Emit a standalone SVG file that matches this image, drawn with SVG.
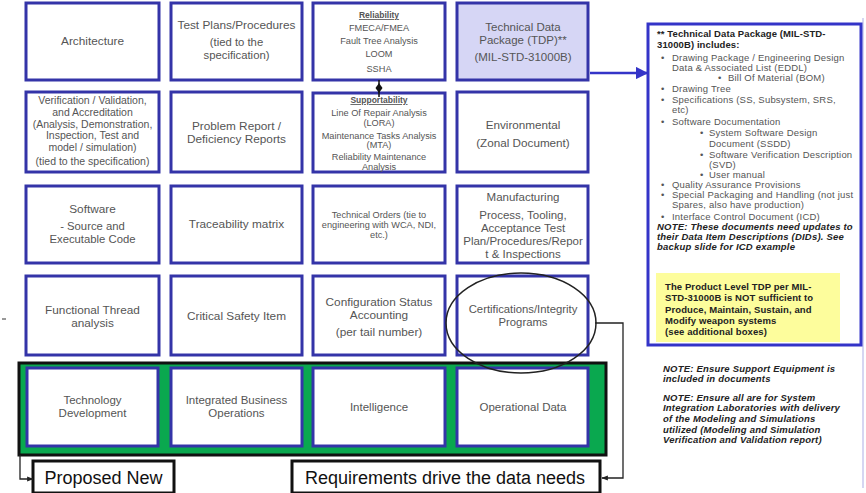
<svg xmlns="http://www.w3.org/2000/svg" width="866" height="493" viewBox="0 0 866 493">
<defs>
<style>
.box{fill:#fff;stroke:#3434a8;stroke-width:3}
.t{font-family:"Liberation Sans",Arial,sans-serif;fill:#555;text-anchor:middle}
.s11{font-size:11.8px}
.s10{font-size:11.5px}
.sv{font-size:10.5px}
.s8{font-size:9.2px}
.p{font-family:"Liberation Sans",Arial,sans-serif;font-size:9.5px;letter-spacing:0.2px;fill:#555}
.pb{font-family:"Liberation Sans",Arial,sans-serif;font-size:9.5px;letter-spacing:0.1px;fill:#222;font-weight:bold}
.pi{font-family:"Liberation Sans",Arial,sans-serif;font-size:9.5px;letter-spacing:0.2px;fill:#222;font-style:italic;font-weight:bold}
.big{font-family:"Liberation Sans",Arial,sans-serif;font-size:18px;fill:#111;text-anchor:middle}
.conn{fill:none;stroke:#222;stroke-width:1.3}
</style>
<marker id="ah" viewBox="0 0 10 10" refX="9" refY="5" markerWidth="5" markerHeight="5" orient="auto"><path d="M0,1 L10,5 L0,9 z" fill="#222"/></marker>
<marker id="ahb" viewBox="0 0 10 10" refX="9" refY="5" markerWidth="5" markerHeight="5" orient="auto"><path d="M0,0 L10,5 L0,10 z" fill="#3434c8"/></marker>
</defs>
<rect width="866" height="493" fill="#fff"/>
<line x1="863" y1="18" x2="863" y2="488" stroke="#c8c8ee" stroke-width="1.5"/>
<line x1="2" y1="319" x2="6" y2="319" stroke="#333" stroke-width="1"/>

<g id="green-band"><rect x="19" y="363" width="587" height="92" fill="#0aa84f" stroke="#111" stroke-width="3"/></g>

<g id="architecture"><rect class="box" x="26" y="3" width="133" height="77"/><text class="t s11" x="92.5" y="45">Architecture</text></g>
<g id="test-plans"><rect class="box" x="171" y="3" width="131" height="77"/><text class="t s11" x="236.5" y="29">Test Plans/Procedures</text><text class="t" font-size="11.3" x="236.5" y="46">(tied to the</text><text class="t" font-size="11.3" x="236.5" y="59">specification)</text></g>
<g id="reliability"><rect class="box" x="313" y="3" width="132" height="77"/>
<text class="t" font-size="8.5" x="379" y="18" font-weight="bold" fill="#333" text-decoration="underline">Reliability</text>
<text class="t s8" x="379" y="31">FMECA/FMEA</text><text class="t s8" x="379" y="44">Fault Tree Analysis</text><text class="t s8" x="379" y="57">LOOM</text><text class="t s8" x="379" y="72">SSHA</text></g>
<g id="tdp"><rect class="box" x="457" y="3" width="131" height="77" style="fill:#d6d6f5"/><text class="t" font-size="11.5" x="523" y="31">Technical Data</text><text class="t" font-size="11.5" x="523" y="44">Package (TDP)**</text><text class="t" font-size="11.5" x="523" y="61">(MIL-STD-31000B)</text></g>

<g id="vva"><rect class="box" x="26" y="92" width="133" height="80"/>
<text class="t sv" x="92.5" y="104">Verification / Validation,</text><text class="t sv" x="92.5" y="116">and Accreditation</text><text class="t sv" x="92.5" y="128">(Analysis, Demonstration,</text><text class="t sv" x="92.5" y="139">Inspection, Test and</text><text class="t sv" x="92.5" y="151">model / simulation)</text><text class="t sv" x="92.5" y="165">(tied to the specification)</text></g>
<g id="problem-report"><rect class="box" x="171" y="92" width="131" height="80"/><text class="t s11" x="236.5" y="130">Problem Report /</text><text class="t s11" x="236.5" y="143">Deficiency Reports</text></g>
<g id="supportability"><rect class="box" x="313" y="93" width="132" height="79"/>
<text class="t" font-size="8.5" x="379" y="103" font-weight="bold" fill="#333" text-decoration="underline">Supportability</text>
<text class="t s8" x="379" y="116">Line Of Repair Analysis</text><text class="t s8" x="379" y="126">(LORA)</text><text class="t s8" x="379" y="139">Maintenance Tasks Analysis</text><text class="t s8" x="379" y="148">(MTA)</text><text class="t s8" x="379" y="160">Reliability Maintenance</text><text class="t s8" x="379" y="170">Analysis</text></g>
<g id="environmental"><rect class="box" x="457" y="92" width="131" height="80"/><text class="t" font-size="11.7" x="523" y="129">Environmental</text><text class="t" font-size="11.7" x="523" y="147">(Zonal Document)</text></g>

<g id="software"><rect class="box" x="26" y="186" width="133" height="77"/><text class="t s11" x="92.5" y="213">Software</text><text class="t" font-size="11.3" x="92.5" y="230">- Source and</text><text class="t" font-size="11.3" x="92.5" y="243">Executable Code</text></g>
<g id="traceability"><rect class="box" x="171" y="186" width="131" height="77"/><text class="t s11" x="236.5" y="228">Traceability matrix</text></g>
<g id="technical-orders"><rect class="box" x="313" y="186" width="132" height="77"/><text class="t s8" x="379" y="218">Technical Orders (tie to</text><text class="t s8" x="379" y="228">engineering with WCA, NDI,</text><text class="t s8" x="379" y="238">etc.)</text></g>
<g id="manufacturing"><rect class="box" x="457" y="186" width="131" height="77"/><text class="t" font-size="11.5" x="523" y="201">Manufacturing</text><text class="t" font-size="11.5" x="523" y="219">Process, Tooling,</text><text class="t" font-size="11.5" x="523" y="232">Acceptance Test</text><text class="t" font-size="11.5" x="523" y="245">Plan/Procedures/Repor</text><text class="t" font-size="11.5" x="523" y="258">t &amp; Inspections</text></g>

<g id="functional-thread"><rect class="box" x="26" y="276" width="133" height="79"/><text class="t s11" x="92.5" y="314">Functional Thread</text><text class="t s11" x="92.5" y="327">analysis</text></g>
<g id="critical-safety"><rect class="box" x="171" y="276" width="131" height="79"/><text class="t s11" x="236.5" y="320">Critical Safety Item</text></g>
<g id="config-status"><rect class="box" x="313" y="276" width="132" height="79"/><text class="t s11" x="379" y="306">Configuration Status</text><text class="t s11" x="379" y="319">Accounting</text><text class="t s11" x="379" y="336">(per tail number)</text></g>
<g id="certifications"><rect class="box" x="457" y="276" width="131" height="79"/><text class="t" font-size="11.3" x="523" y="313">Certifications/Integrity</text><text class="t" font-size="11.3" x="523" y="326">Programs</text></g>

<g id="technology-development"><rect class="box" x="27" y="368" width="131" height="78"/><text class="t s10" x="92.5" y="404">Technology</text><text class="t s10" x="92.5" y="417">Development</text></g>
<g id="integrated-business"><rect class="box" x="171" y="368" width="131" height="78"/><text class="t s10" x="236.5" y="404">Integrated Business</text><text class="t s10" x="236.5" y="417">Operations</text></g>
<g id="intelligence"><rect class="box" x="313" y="368" width="132" height="78"/><text class="t s10" x="379" y="411">Intelligence</text></g>
<g id="operational-data"><rect class="box" x="457" y="368" width="131" height="78"/><text class="t s10" x="523" y="411">Operational Data</text></g>

<g id="proposed-new"><rect x="33" y="461" width="141" height="32" fill="#fff" stroke="#111" stroke-width="3"/><text class="big" x="103.5" y="484">Proposed New</text></g>
<g id="requirements"><rect x="292" y="461" width="308" height="32" fill="#fff" stroke="#111" stroke-width="3"/><text class="big" x="445" y="484">Requirements drive the data needs</text></g>

<g id="tdp-panel">
<rect x="648" y="24" width="213" height="321" fill="#fff" stroke="#3434c8" stroke-width="3"/>
<text class="pb" x="657" y="37">** Technical Data Package (MIL-STD-</text>
<text class="pb" x="657" y="48">31000B) includes:</text>
<text class="p" x="661" y="61">•</text><text class="p" x="672" y="61">Drawing Package / Engineering Design</text>
<text class="p" x="672" y="71">Data &amp; Associated List (EDDL)</text>
<text class="p" x="718" y="81">•</text><text class="p" x="728" y="81">Bill Of Material (BOM)</text>
<text class="p" x="661" y="92">•</text><text class="p" x="672" y="92">Drawing Tree</text>
<text class="p" x="661" y="103">•</text><text class="p" x="672" y="103">Specifications (SS, Subsystem, SRS,</text>
<text class="p" x="672" y="113">etc)</text>
<text class="p" x="661" y="125">•</text><text class="p" x="672" y="125">Software Documentation</text>
<text class="p" x="700" y="136">•</text><text class="p" x="709" y="136">System Software Design</text>
<text class="p" x="709" y="147">Document (SSDD)</text>
<text class="p" x="700" y="158">•</text><text class="p" x="709" y="158">Software Verification Description</text>
<text class="p" x="709" y="168">(SVD)</text>
<text class="p" x="700" y="178">•</text><text class="p" x="709" y="178">User manual</text>
<text class="p" x="661" y="188">•</text><text class="p" x="672" y="188">Quality Assurance Provisions</text>
<text class="p" x="661" y="198">•</text><text class="p" x="672" y="198">Special Packaging and Handling (not just</text>
<text class="p" x="672" y="208">Spares, also have production)</text>
<text class="p" x="661" y="220">•</text><text class="p" x="672" y="220">Interface Control Document (ICD)</text>
<text class="pi" x="657" y="230">NOTE: These documents need updates to</text>
<text class="pi" x="657" y="240">their Data Item Descriptions (DIDs).  See</text>
<text class="pi" x="657" y="250">backup slide for ICD example</text>
<rect x="656" y="273" width="184" height="69" fill="#fdfd9c"/>
<text class="pb" x="665" y="290">The Product Level TDP per MIL-</text>
<text class="pb" x="665" y="301">STD-31000B is NOT sufficient to</text>
<text class="pb" x="665" y="313">Produce, Maintain, Sustain, and</text>
<text class="pb" x="665" y="324">Modify weapon systems</text>
<text class="pb" x="665" y="335">(see additional boxes)</text>
</g>

<g id="notes">
<text class="pi" x="663" y="372">NOTE: Ensure Support Equipment is</text>
<text class="pi" x="663" y="382">included in documents</text>
<text class="pi" x="663" y="401">NOTE: Ensure all are for System</text>
<text class="pi" x="663" y="411">Integration Laboratories with delivery</text>
<text class="pi" x="663" y="422">of the Modeling and Simulations</text>
<text class="pi" x="663" y="433">utilized (Modeling and Simulation</text>
<text class="pi" x="663" y="443">Verification and Validation report)</text>
</g>

<g id="connectors">
<ellipse cx="521" cy="323" rx="75" ry="50" fill="none" stroke="#222" stroke-width="1.5"/>
<path class="conn" d="M595,323 H623 V478 H602" marker-end="url(#ah)"/>
<path class="conn" d="M20,455 V479 H33" marker-end="url(#ah)"/>
<path d="M590,73 H647" fill="none" stroke="#3434c8" stroke-width="2.5" marker-end="url(#ahb)"/>
<line x1="379" y1="80" x2="379" y2="97" stroke="#111" stroke-width="1.5"/>
<path d="M379,83 L382.5,88 L379,93 L375.5,88 z" fill="#111"/>
</g>
</svg>
